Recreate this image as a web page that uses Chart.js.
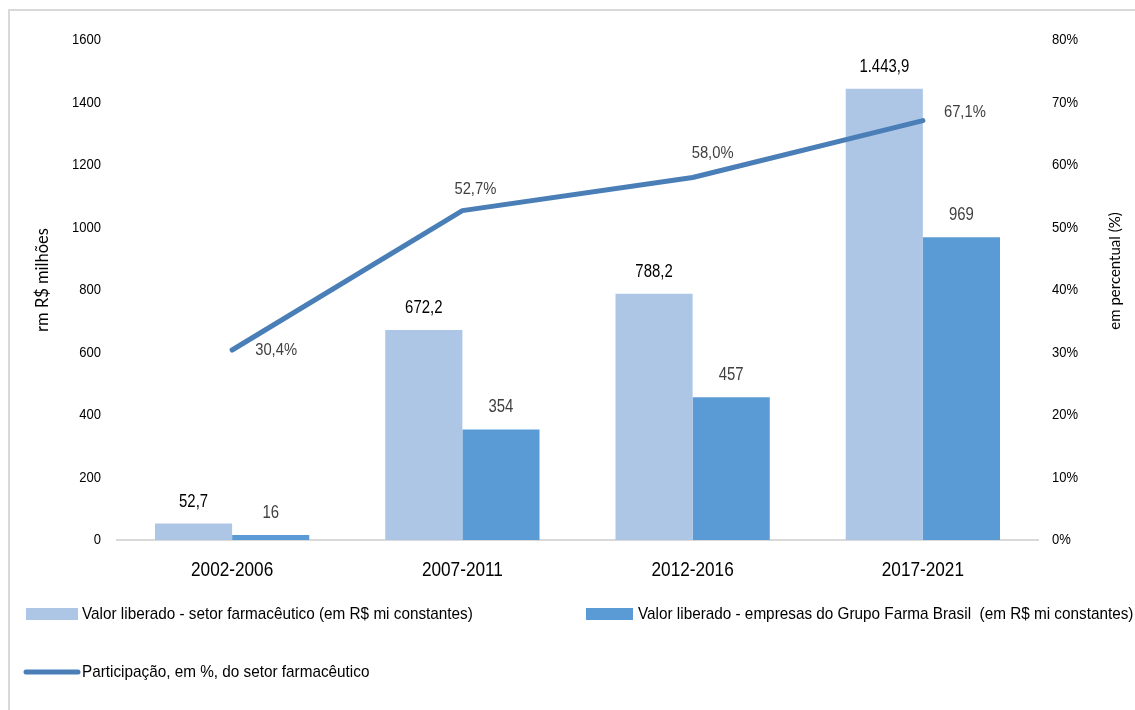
<!DOCTYPE html>
<html>
    <head>
        <meta charset="utf-8">
        <title>Valor liberado - setor farmacêutico</title>
        <script src="https://cdn.jsdelivr.net/npm/chart.js@4/dist/chart.umd.min.js"></script>
        <style>
            html, body { margin: 0; padding: 0; background: #fff; }
        </style>
    </head>
    <body>
        <canvas id="chart" width="1135" height="710"></canvas>

        <script>
            const periods = ['2002-2006', '2007-2011', '2012-2016', '2017-2021']
            const setorFarma = [52.7, 672.2, 788.2, 1443.9]
            const grupoFarma = [16, 354, 457, 969]
            const participacao = [30.4, 52.7, 58.0, 67.1]

            const leftTicks = [0, 200, 400, 600, 800, 1000, 1200, 1400, 1600]
            const rightTicks = [0, 10, 20, 30, 40, 50, 60, 70, 80]

            const seriesNames = [
                'Valor liberado - setor farmacêutico (em R$ mi constantes)',
                'Valor liberado - empresas do Grupo Farma Brasil  (em R$ mi constantes)',
                'Participação, em %, do setor farmacêutico',
            ]
            const leftTitle = 'rm R$ milhões'
            const rightTitle = 'em percentual (%)'

            const SANS = "'Liberation Sans', Arial, sans-serif"
            const TITLE_FONT = "Lato, 'Open Sans', sans-serif"

            const lightBlue = '#adc6e6'
            const midBlue = '#5b9bd5'
            const lineBlue = '#4a7eb7'

            // pt-BR number: 1.443,9
            function ptBR(v, dec) {
                const [i, d] = v.toFixed(dec).split('.')
                const int = i.replace(/\B(?=(\d{3})+(?!\d))/g, '.')
                return d ? int + ',' + d : int
            }

            // condensed text: regular face squeezed horizontally
            function drawText(ctx, text, x, y, o) {
                ctx.save()
                ctx.translate(x, y)
                if (o.rotate) ctx.rotate(o.rotate)
                ctx.scale(o.sx || 1, 1)
                ctx.font = o.size + 'px ' + (o.family || SANS)
                ctx.fillStyle = o.color || '#000'
                ctx.textAlign = o.align || 'center'
                ctx.textBaseline = 'middle'
                ctx.fillText(text, 0, 0)
                ctx.restore()
            }

            // offsets of the percentage labels from their points
            const pctOffsets = [[44, 0], [13, -21], [20, -24], [42, -8]]

            const frame = {
                id: 'frame',
                beforeDraw(chart) {
                    const ctx = chart.ctx
                    ctx.save()
                    ctx.strokeStyle = '#d9d9d9'
                    ctx.lineWidth = 2
                    ctx.beginPath()
                    ctx.moveTo(9, 710)
                    ctx.lineTo(9, 10)
                    ctx.lineTo(1135, 10)
                    ctx.stroke()
                    ctx.restore()
                },
            }

            const axisText = {
                id: 'axisText',
                afterDraw(chart) {
                    const ctx = chart.ctx
                    const { x, y, y1 } = chart.scales
                    y.ticks.forEach(t => {
                        drawText(ctx, String(t.value), 101, y.getPixelForValue(t.value),
                            { size: 15.5, sx: 0.84, align: 'right' })
                    })
                    y1.ticks.forEach(t => {
                        drawText(ctx, t.value + '%', 1052, y1.getPixelForValue(t.value),
                            { size: 15.5, sx: 0.84, align: 'left' })
                    })
                    x.ticks.forEach((t, i) => {
                        drawText(ctx, periods[i], x.getPixelForTick(i), 570, { size: 20, sx: 0.86 })
                    })
                    const midY = (y.top + y.bottom) / 2
                    drawText(ctx, leftTitle, 43, midY - 10,
                        { size: 16.5, family: TITLE_FONT, rotate: -Math.PI / 2 })
                    drawText(ctx, rightTitle, 1115, midY - 19,
                        { size: 15, family: TITLE_FONT, rotate: -Math.PI / 2 })
                },
            }

            const valueLabels = {
                id: 'valueLabels',
                afterDatasetsDraw(chart) {
                    const ctx = chart.ctx
                    chart.data.datasets.forEach((ds, i) => {
                        const meta = chart.getDatasetMeta(i)
                        meta.data.forEach((el, j) => {
                            const v = ds.data[j]
                            if (ds.type === 'line') {
                                const [dx, dy] = pctOffsets[j]
                                drawText(ctx, ptBR(v, 1) + '%', el.x + dx, el.y + dy,
                                    { size: 17, sx: 0.87, color: '#404040' })
                            } else {
                                const txt = i === 1 ? ptBR(v, 1) : ptBR(v, 0)
                                drawText(ctx, txt, el.x, el.y - 22,
                                    { size: 18, sx: 0.83, color: i === 1 ? '#000' : '#404040' })
                            }
                        })
                    })
                },
            }

            const bottomLegend = {
                id: 'bottomLegend',
                afterDraw(chart) {
                    const ctx = chart.ctx
                    const o = { size: 17, sx: 0.9, align: 'left' }
                    ctx.save()
                    ctx.fillStyle = lightBlue
                    ctx.fillRect(26, 608, 52, 12)
                    ctx.fillStyle = midBlue
                    ctx.fillRect(586, 608, 47, 12)
                    ctx.strokeStyle = lineBlue
                    ctx.lineWidth = 5
                    ctx.lineCap = 'round'
                    ctx.beginPath()
                    ctx.moveTo(26, 672)
                    ctx.lineTo(78, 672)
                    ctx.stroke()
                    ctx.restore()
                    drawText(ctx, seriesNames[0], 82, 614, o)
                    drawText(ctx, seriesNames[1], 638, 614, o)
                    drawText(ctx, seriesNames[2], 82, 672, o)
                },
            }

            new Chart('chart', {
                type: 'bar',
                data: {
                    labels: periods,
                    datasets: [
                        {
                            type: 'line',
                            label: seriesNames[2],
                            data: participacao,
                            yAxisID: 'y1',
                            borderColor: lineBlue,
                            borderWidth: 5,
                            borderCapStyle: 'round',
                            borderJoinStyle: 'round',
                            pointRadius: 0,
                            tension: 0,
                            order: 0,
                        },
                        {
                            label: seriesNames[0],
                            data: setorFarma,
                            yAxisID: 'y',
                            backgroundColor: lightBlue,
                            categoryPercentage: 0.67,
                            barPercentage: 1,
                            order: 1,
                        },
                        {
                            label: seriesNames[1],
                            data: grupoFarma,
                            yAxisID: 'y',
                            backgroundColor: midBlue,
                            categoryPercentage: 0.67,
                            barPercentage: 1,
                            order: 1,
                        },
                    ],
                },
                options: {
                    responsive: false,
                    animation: false,
                    layout: { padding: { top: 40, bottom: 110, left: 0, right: 0 } },
                    plugins: {
                        legend: { display: false },
                        tooltip: { enabled: false },
                    },
                    scales: {
                        x: {
                            grid: { display: false, drawTicks: false },
                            border: { color: '#d9d9d9', width: 2 },
                            ticks: { display: false },
                            afterFit: s => { s.height = 60 },
                        },
                        y: {
                            position: 'left',
                            min: 0,
                            max: 1600,
                            grid: { display: false, drawTicks: false },
                            border: { display: false },
                            afterBuildTicks: s => { s.ticks = leftTicks.map(v => ({ value: v })) },
                            ticks: { display: false },
                            afterFit: s => { s.width = 117 },
                        },
                        y1: {
                            position: 'right',
                            min: 0,
                            max: 80,
                            grid: { display: false, drawTicks: false },
                            border: { display: false },
                            afterBuildTicks: s => { s.ticks = rightTicks.map(v => ({ value: v })) },
                            ticks: { display: false },
                            afterFit: s => { s.width = 97 },
                        },
                    },
                },
                plugins: [frame, valueLabels, axisText, bottomLegend],
            })
        </script>
    </body>
</html>
